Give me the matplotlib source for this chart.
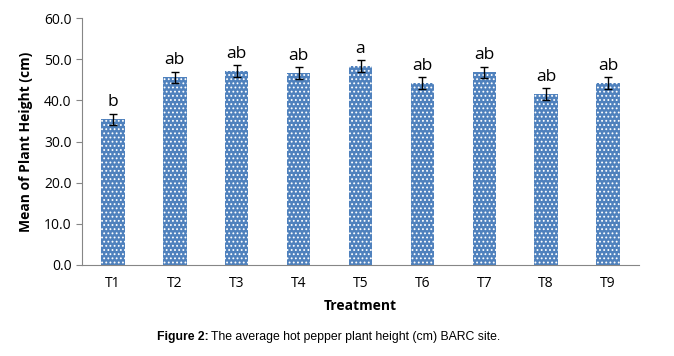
import matplotlib
matplotlib.use("Agg")
import matplotlib.pyplot as plt

treatments = ["T1", "T2", "T3", "T4", "T5", "T6", "T7", "T8", "T9"]
heights = [35.4, 45.6, 47.1, 46.6, 48.3, 44.2, 46.8, 41.6, 44.2]
errors = [1.4, 1.4, 1.4, 1.4, 1.5, 1.4, 1.4, 1.4, 1.4]
letters = ["b", "ab", "ab", "ab", "a", "ab", "ab", "ab", "ab"]
yticks = [0, 10, 20, 30, 40, 50, 60]

plt.rcParams['font.family'] = ['Open Sans', 'DejaVu Sans']
plt.rcParams['hatch.color'] = 'white'
plt.rcParams['hatch.linewidth'] = 0.8

fig = plt.figure(figsize=(6.74, 3.56), dpi=100)
ax = fig.add_axes([82 / 674, 1 - 265 / 356, (639 - 82) / 674, (265 - 18) / 356])

x = range(len(treatments))
ax.bar(x, heights, width=0.38, color='#4F81BD', hatch='....', linewidth=0)
ax.errorbar(x, heights, yerr=errors, fmt='none', ecolor='black',
            elinewidth=1, capsize=3, capthick=1)
for i, (h, e, lab) in enumerate(zip(heights, errors, letters)):
    ax.text(i, h + e + 0.8, lab, ha='center', va='bottom', fontsize=12.5)

ax.set_xlim(-0.5, len(treatments) - 0.5)
ax.set_ylim(0, 60)
ax.set_yticks(yticks)
ax.set_yticklabels([f"{v:.1f}" for v in yticks], fontsize=10)
ax.set_xticks(list(x))
ax.set_xticklabels(treatments, fontsize=10)
ax.tick_params(axis='x', length=0, pad=8)
ax.tick_params(axis='y', length=4, color='#868686', direction='out')
for s in ['top', 'right']:
    ax.spines[s].set_visible(False)
for s in ['left', 'bottom']:
    ax.spines[s].set_color('#868686')

ax.set_xlabel("Treatment", fontsize=10, fontweight='bold', labelpad=6)
ax.set_ylabel("Mean of Plant Height (cm)", fontsize=10, fontweight='bold', labelpad=8)

fig.text(157 / 674, 1 - 337 / 356, "Figure 2:", fontsize=8.8, fontweight='bold',
         family='Liberation Sans', va='center')
fig.text(211 / 674, 1 - 337 / 356, "The average hot pepper plant height (cm) BARC site.",
         fontsize=8.8, family='Liberation Sans', va='center')

fig.savefig("out.png", dpi=100)
